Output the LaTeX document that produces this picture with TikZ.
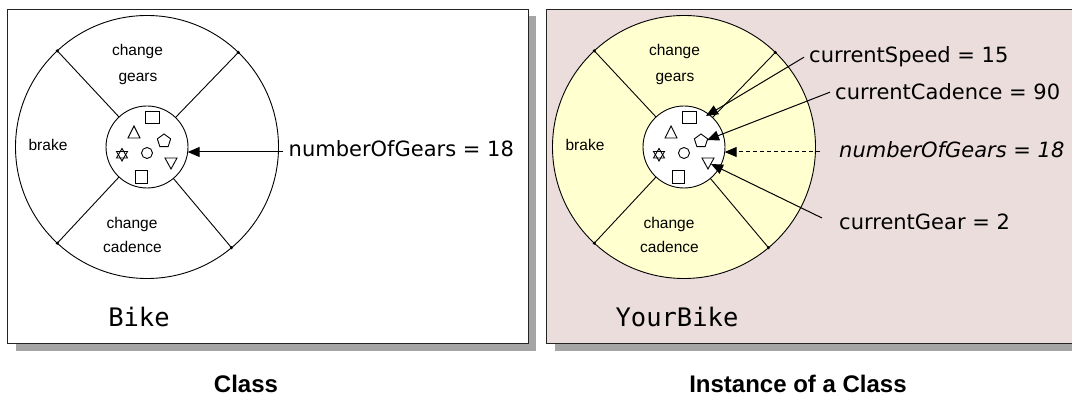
\documentclass[tikz,border=0pt]{standalone}
\usepackage{fontspec}
\setmainfont{DejaVu Sans}
\newfontfamily\wheelfont{Liberation Sans}
\newfontfamily\capfont{Liberation Sans}
\newfontfamily\objfont{DejaVu Sans Mono}
\usetikzlibrary{arrows.meta,shapes.geometric}
\definecolor{pinkbg}{RGB}{236,221,221}
\definecolor{wheelyellow}{RGB}{255,255,208}
\definecolor{shadowgray}{RGB}{165,165,165}
\definecolor{framecol}{RGB}{35,35,35}
\tikzset{
  boxline/.style={draw=framecol, line width=1.4pt},
  wheeltext/.style={font=\wheelfont\fontsize{15.5}{17}\selectfont, anchor=base, inner sep=0pt},
  attr/.style={font=\fontsize{21}{25}\selectfont, anchor=base west, inner ysep=0pt, inner xsep=5pt},
  objname/.style={font=\objfont\fontsize{25.5}{30}\selectfont, anchor=base, inner sep=0pt},
  captext/.style={font=\capfont\bfseries\fontsize{24}{28}\selectfont, anchor=base, inner sep=0pt},
  arr/.style={-{Triangle[length=12pt,width=10pt]}, line width=1pt},
  spoke/.style={line width=0.9pt},
  glyph/.style={draw, line width=0.9pt},
  pics/wheel/.style={code={
    \node[circle, draw, line width=0.9pt, fill=#1, minimum size=263pt, inner sep=0pt, outer sep=0pt] (-outer) at (0,0) {};
    \node[circle, draw, line width=0.9pt, fill=white, minimum size=82pt, inner sep=0pt, outer sep=0pt] (-inner) at (0,0) {};
    \foreach \a in {133,46,227,310} {
      \draw[spoke] (-inner.\a) -- (-outer.\a);
      \fill (-outer.\a) circle (1.7);
    }
    \node[wheeltext] (-cg1) at (-9.5,-91) {change};
    \node[wheeltext] (-cg2) at (-9,-65) {gears};
    \node[wheeltext] (-br) at (-99,4) {brake};
    \node[wheeltext] (-cc1) at (-15,82) {change};
    \node[wheeltext] (-cc2) at (-14.5,106) {cadence};
    % methods / variables glyphs
    \draw[glyph] (-2,-36) rectangle (12,-24);
    \draw[glyph] (-19,-9) -- (-7,-9) -- (-13,-21) -- cycle;
    \node[regular polygon, regular polygon sides=5, glyph, minimum size=14pt, inner sep=0pt] (-pent) at (17,-6) {};
    \draw[glyph] (-30.5,11) -- (-19.5,11) -- (-25,1.5) -- cycle;
    \draw[glyph] (-30.5,4.5) -- (-19.5,4.5) -- (-25,14) -- cycle;
    \draw[glyph] (0,6) circle (5.5);
    \draw[glyph] (18,11) -- (30,11) -- (24,22) -- cycle;
    \draw[glyph] (-12,23) rectangle (0,36);
  }}
}
\begin{document}
\begin{tikzpicture}[x=1pt,y=-1pt]
\useasboundingbox (0,0) rectangle (1072,403);
\clip (0,0) rectangle (1072,403);
\fill[white] (0,0) rectangle (1072,403);
% left box (class)
\fill[shadowgray] (16,16) rectangle (536,351);
\draw[boxline, fill=white] (7.5,9.5) rectangle (528.5,343.5);
% right box (instance)
\fill[shadowgray] (555,16) rectangle (1110,351);
\draw[boxline, fill=pinkbg] (546.5,9.5) rectangle (1100,343.5);
% wheels
\pic (L) at (147,147) {wheel=white};
\pic (R) at (684,147) {wheel=wheelyellow};
% object names
\node[objname] (bike) at (139,327) {Bike};
\node[objname] (yourbike) at (677,327) {YourBike};
% class attribute
\node[attr, inner xsep=6pt] (Lnum) at (282.5,157) {numberOfGears = 18};
\draw[arr] (Lnum.west |- L-inner.-7) -- (L-inner.-7);
% instance attributes
\node[attr] (Rspeed) at (804,63) {currentSpeed = 15};
\node[attr] (Rcad) at (830,100) {currentCadence = 90};
\node[attr, inner xsep=19pt] (Rnum) at (820,158) {\itshape numberOfGears = 18};
\node[attr] (Rgear) at (834,230) {currentGear = 2};
\coordinate (speedtip) at (706,116);
\coordinate (cadtip) at (707,140);
\coordinate (geartip) at (711,164);
\coordinate (gearend) at (822,218);
\draw[arr] (Rspeed.west) -- (speedtip);
\draw[arr] (Rcad.west) -- (cadtip);
\draw[arr, dash pattern=on 4pt off 3pt] (Rnum.west |- R-inner.-7) -- (R-inner.-7);
\draw[arr] (gearend) -- (geartip);
% captions
\node[captext] (capL) at (246,393) {Class};
\node[captext] (capR) at (798,393) {Instance of a Class};
\end{tikzpicture}
\end{document}
